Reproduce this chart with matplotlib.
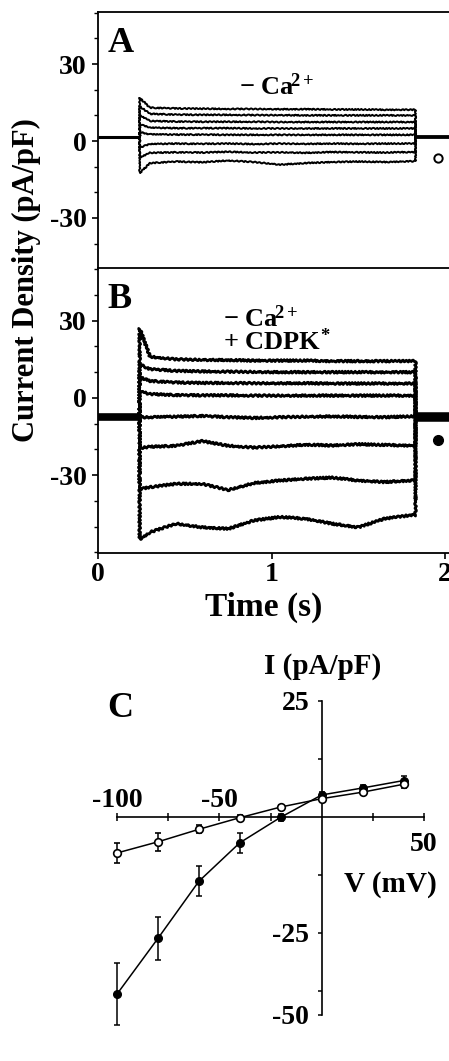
import matplotlib
matplotlib.use('Agg')
import matplotlib.pyplot as plt
from matplotlib.ticker import MultipleLocator

plt.rcParams['font.family'] = 'Liberation Serif'
plt.rcParams['font.weight'] = 'bold'
plt.rcParams['axes.unicode_minus'] = False
plt.rcParams['mathtext.fontset'] = 'custom'
plt.rcParams['mathtext.rm'] = 'Liberation Serif:bold'
plt.rcParams['mathtext.it'] = 'Liberation Serif:bold'
plt.rcParams['mathtext.bf'] = 'Liberation Serif:bold'

### data ###
t_on, t_off, t_end = 0.24, 1.83, 2.03
knot_t = [0.30, 0.45, 0.60, 0.75, 0.90, 1.05, 1.20, 1.35, 1.50, 1.65, 1.80]

# panel A, - Ca2+
a_base = 1.5
a_start = [16.8, 13.5, 10.0, 6.5, 3.5, -2.5, -6.5, -12.5]
a_traces = [
    [13.0, 12.7, 12.6, 12.5, 12.5, 12.4, 12.4, 12.3, 12.3, 12.2, 12.2],
    [10.6, 10.3, 10.2, 10.2, 10.1, 10.1, 10.0, 10.0, 10.0, 10.0, 10.0],
    [7.8, 7.6, 7.5, 7.5, 7.5, 7.4, 7.4, 7.4, 7.4, 7.4, 7.4],
    [5.2, 5.0, 5.0, 5.0, 4.9, 4.9, 4.9, 4.9, 4.9, 4.9, 4.9],
    [2.6, 2.5, 2.5, 2.4, 2.4, 2.4, 2.4, 2.4, 2.4, 2.4, 2.4],
    [-1.2, -1.0, -1.1, -1.0, -1.2, -1.0, -1.1, -1.0, -1.1, -1.0, -1.0],
    [-4.6, -4.4, -4.5, -4.2, -4.5, -4.4, -4.6, -4.3, -4.4, -4.5, -4.3],
    [-8.6, -8.0, -8.3, -7.6, -8.2, -9.2, -8.6, -8.2, -8.0, -8.2, -7.9],
]

# panel B, - Ca2+ + CDPK*
b_base = -7.5
b_start = [27.0, 13.0, 8.0, 2.5, -7.5, -19.5, -35.5, -55.0]
b_traces = [
    [16.0, 15.0, 14.8, 14.7, 14.5, 14.5, 14.5, 14.3, 14.3, 14.3, 14.3],
    [11.2, 10.5, 10.3, 10.2, 10.1, 10.0, 10.0, 10.0, 10.0, 10.0, 10.0],
    [6.6, 6.0, 5.8, 5.8, 5.7, 5.7, 5.7, 5.6, 5.6, 5.6, 5.6],
    [1.5, 1.1, 1.0, 1.0, 0.9, 0.9, 0.9, 0.9, 0.9, 0.9, 0.9],
    [-7.5, -7.3, -7.0, -7.5, -7.8, -7.5, -7.3, -7.2, -7.4, -7.5, -7.2],
    [-19.0, -18.6, -16.8, -18.6, -19.3, -18.8, -18.2, -18.5, -18.0, -18.3, -18.5],
    [-34.7, -33.4, -33.4, -35.8, -33.1, -32.1, -31.4, -31.0, -32.1, -32.7, -32.1],
    [-52.2, -48.9, -50.3, -50.9, -47.6, -46.3, -47.0, -48.9, -50.3, -47.0, -45.6],
]
trace_yticks = [-30, 0, 30]

# panel C, I-V
V = [-100, -80, -60, -40, -20, 0, 20, 40]
I_ctrl = [-7.8, -5.4, -2.7, -0.2, 2.1, 3.9, 5.3, 7.0]
err_ctrl = [2.2, 1.9, 0.9, 0.5, 0.5, 0.5, 0.5, 0.8]
I_cdpk = [-38.2, -26.2, -13.9, -5.6, -0.1, 4.7, 6.2, 7.8]
err_cdpk = [6.6, 4.6, 3.2, 2.2, 0.8, 0.6, 0.6, 1.0]
c_yticks = [25, -25, -42.7]
c_yticklabels = ['25', '-25', '-50']

tickSize = 20

def plotTraces(ax, base, starts, traces, lw, baseLw, noise):
    ax.plot([0, t_on], [base, base], color='k', lw=baseLw, solid_capstyle='butt')
    ax.plot([t_off, t_end], [base, base], color='k', lw=baseLw*1.25, solid_capstyle='butt')
    for s, vals in zip(starts, traces):
        x = [t_on, t_on] + knot_t + [t_off, t_off]
        y = [base, s] + vals + [vals[-1], base]
        ln, = ax.plot(x, y, color='k', lw=lw)
        ln.set_sketch_params(noise, 4, 2)

def styleTraceAx(ax, ylim):
    ax.set_xlim(0, 2.023)
    ax.set_ylim(*ylim)
    ax.set_yticks(trace_yticks)
    ax.yaxis.set_minor_locator(MultipleLocator(10))
    ax.tick_params(axis='y', which='major', direction='out', length=4, width=1.2,
                   labelsize=tickSize, pad=4)
    ax.tick_params(axis='y', which='minor', direction='out', length=3, width=1.0)
    for sp in ax.spines.values():
        sp.set_linewidth(1.3)
    ax.spines['right'].set_visible(False)

fig = plt.figure(figsize=(4.49, 10.61), dpi=100)

axA = fig.add_axes([98/449, 1-268/1061, 351/449, 256/1061])
axB = fig.add_axes([98/449, 1-552.5/1061, 351/449, 284.5/1061])
axC = fig.add_axes([117/449, 1-1015/1061, 307/449, 314.3/1061])

# A
plotTraces(axA, a_base, a_start, a_traces, lw=1.4, baseLw=2.2, noise=0.6)
styleTraceAx(axA, (-49.5, 50.3))
axA.spines['bottom'].set_visible(False)
axA.tick_params(axis='x', bottom=False, labelbottom=False)
axA.text(0.026, 0.845, 'A', transform=axA.transAxes, fontsize=26, ha='left', va='baseline')
axA.text(0.5085, 0.676, r'− Ca$^{\!2+}$', transform=axA.transAxes, fontsize=19,
         ha='center', va='baseline')
axA.plot([0.9687], [0.4297], transform=axA.transAxes, marker='o', ms=6, mfc='white',
         mec='k', mew=1.4, clip_on=False)

# B
plotTraces(axB, b_base, b_start, b_traces, lw=2.0, baseLw=5.5, noise=1.0)
styleTraceAx(axB, (-60.1, 50.5))
axB.set_xticks([0, 1, 2])
axB.tick_params(axis='x', direction='out', length=4, width=1.2, labelsize=tickSize, pad=3)
axB.text(0.026, 0.858, 'B', transform=axB.transAxes, fontsize=26, ha='left', va='baseline')
axB.text(0.356, 0.794, r'− Ca$^{\!2+}$', transform=axB.transAxes, fontsize=19,
         ha='left', va='baseline')
axB.text(0.356, 0.712, r'+ CDPK$^{\!*}$', transform=axB.transAxes, fontsize=19,
         ha='left', va='baseline')
axB.plot([0.9687], [0.3954], transform=axB.transAxes, marker='o', ms=7, color='k',
         clip_on=False)

fig.text(26/449, 1-280/1061, 'Current Density (pA/pF)', rotation=90, fontsize=22,
         ha='center', va='center')
fig.text(264/449, 1-607/1061, 'Time (s)', fontsize=24, ha='center', va='center')

# C
axC.errorbar(V, I_cdpk, yerr=err_cdpk, color='k', lw=1.1, marker='o', ms=5.5,
             mfc='k', mec='k', capsize=2.4, elinewidth=1.1, capthick=1.1, clip_on=False,
             zorder=3)
axC.errorbar(V, I_ctrl, yerr=err_ctrl, color='k', lw=1.1, marker='o', ms=5.5,
             mfc='white', mec='k', mew=1.2, capsize=2.4, elinewidth=1.1, capthick=1.1,
             clip_on=False, zorder=4)
axC.set_xlim(-100, 50)
axC.set_ylim(-42.7, 25)
axC.spines['left'].set_position(('data', 0))
axC.spines['bottom'].set_position(('data', 0))
axC.spines['top'].set_visible(False)
axC.spines['right'].set_visible(False)
for sp in ('left', 'bottom'):
    axC.spines[sp].set_linewidth(1.2)

axC.set_yticks(c_yticks, c_yticklabels)
axC.set_yticks([12.5, -12.5, -37.5], minor=True)
axC.tick_params(axis='y', which='both', direction='out', length=3, width=1.1,
                labelsize=tickSize, pad=6)

axC.set_xticks([50], ['50'])
axC.set_xticks([-100, -75, -50, -25, 25], minor=True)
axC.tick_params(axis='x', which='both', direction='inout', length=6, width=1.1,
                labelsize=tickSize, pad=8)

top = axC.secondary_xaxis(0, transform=axC.transData)
top.set_alignment('top')
top.set_xticks([-100, -50], ['-100', '-50'])
top.tick_params(length=0, labelsize=tickSize, pad=3)
top.spines['top'].set_visible(False)
top.spines['bottom'].set_visible(False)

fig.text(107/449, 1-716.7/1061, 'C', fontsize=26, ha='left', va='baseline')
fig.text(323/449, 1-673.3/1061, 'I (pA/pF)', fontsize=21, ha='center', va='baseline')
fig.text(390/449, 1-891.7/1061, 'V (mV)', fontsize=21, ha='center', va='baseline')

fig.savefig('out.png', dpi=100)
